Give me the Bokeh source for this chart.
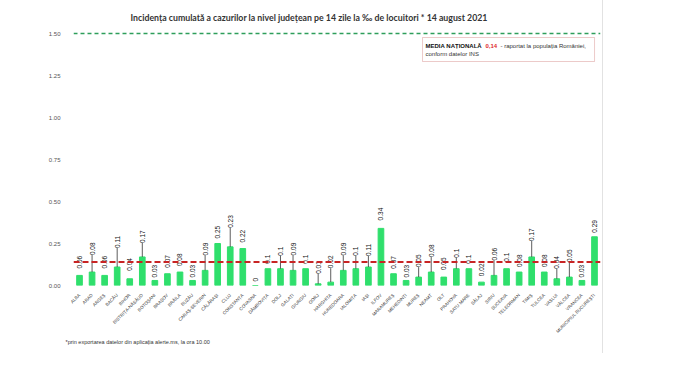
import math
from bokeh.plotting import figure
from bokeh.models import (Range1d, Span, BoxAnnotation, Label, ColumnDataSource,
                          NumeralTickFormatter, Title)
from bokeh.embed import file_html
from bokeh.resources import INLINE

# ---------------- data ----------------
counties = ["ALBA", "ARAD", "ARGEȘ", "BACĂU", "BIHOR", "BISTRIȚA-NĂSĂUD", "BOTOȘANI",
            "BRAȘOV", "BRĂILA", "BUZĂU", "CARAȘ-SEVERIN", "CĂLĂRAȘI", "CLUJ", "CONSTANȚA",
            "COVASNA", "DÂMBOVIȚA", "DOLJ", "GALAȚI", "GIURGIU", "GORJ", "HARGHITA",
            "HUNEDOARA", "IALOMIȚA", "IAȘI", "ILFOV", "MARAMUREȘ", "MEHEDINȚI", "MUREȘ",
            "NEAMȚ", "OLT", "PRAHOVA", "SATU MARE", "SĂLAJ", "SIBIU", "SUCEAVA",
            "TELEORMAN", "TIMIȘ", "TULCEA", "VASLUI", "VÂLCEA", "VRANCEA",
            "MUNICIPIUL BUCUREȘTI"]
values = [0.06, 0.08, 0.06, 0.11, 0.04, 0.17, 0.03, 0.07, 0.08, 0.03, 0.09, 0.25, 0.23,
          0.22, 0, 0.1, 0.1, 0.09, 0.1, 0.01, 0.02, 0.09, 0.1, 0.11, 0.34, 0.07, 0.03,
          0.05, 0.08, 0.05, 0.1, 0.1, 0.02, 0.06, 0.1, 0.08, 0.17, 0.08, 0.04, 0.05,
          0.03, 0.29]
national_mean = 0.14
threshold = 1.50
y_ticks = [0.0, 0.25, 0.5, 0.75, 1.0, 1.25, 1.5]

# ---------------- layout (pixels) ----------------
W, H = 603, 353
B_LEFT, B_RIGHT, B_TOP, B_BOTTOM = 73, 3, 5, 68
PX_PER_UNIT = 252 / 1.5             # 0.00 at y=285, 1.50 at y=33
Y_TOP = 1.5 + (33 - B_TOP) / PX_PER_UNIT   # headroom for the title inside the frame
# label lift above bar top (pixels), a layout choice per label
label_lift_px = [7, 17, 7, 19, 8, 14, 3, 6, 6, 3, 15, 5, 19, 6, 4, 5, 13, 15, 5, 10, 14,
                 15, 13, 11, 8, 5, 3, 10, 15, 7, 11, 5, 6, 15, 7, 5, 16, 5, 10, 15, 3, 4]

idx = list(range(len(counties)))
labels = [("%g" % v) for v in values]
label_y = [v + l / PX_PER_UNIT for v, l in zip(values, label_lift_px)]
src = ColumnDataSource(dict(x=idx, top=values, lab=labels, ly=label_y))

lead = [(i, v, ly) for i, v, ly, l in zip(idx, values, label_y, label_lift_px) if l >= 10]
lead_src = ColumnDataSource(dict(x=[a[0] for a in lead], y0=[a[1] for a in lead],
                                 y1=[a[2] for a in lead]))

p = figure(width=W, height=H, output_backend="svg", toolbar_location=None,
           x_range=Range1d(-0.478, 41.478), y_range=Range1d(0, Y_TOP),
           min_border_left=B_LEFT, min_border_right=B_RIGHT,
           min_border_top=B_TOP, min_border_bottom=B_BOTTOM,
           styles={"border-right": "1px solid #e2e2e2"})
p.outline_line_color = None
p.xgrid.grid_line_color = None
p.ygrid.grid_line_color = None
p.background_fill_color = "white"

# axes
p.yaxis.ticker = y_ticks
p.yaxis.formatter = NumeralTickFormatter(format="0.00")
p.yaxis.axis_line_color = None
p.yaxis.major_tick_line_color = None
p.yaxis.minor_tick_line_color = None
p.yaxis.major_label_text_font = "Liberation Sans"
p.yaxis.major_label_text_font_size = "6px"
p.yaxis.major_label_text_color = "#555555"
p.yaxis.major_label_standoff = 7

p.xaxis.ticker = idx
p.xaxis.major_label_overrides = {i: c for i, c in zip(idx, counties)}
p.xaxis.major_label_orientation = math.pi / 4
p.xaxis.axis_line_color = None
p.xaxis.major_tick_line_color = None
p.xaxis.minor_tick_line_color = None
p.xaxis.major_label_text_font = "Liberation Sans"
p.xaxis.major_label_text_font_size = "4.5px"
p.xaxis.major_label_text_color = "#333333"
p.xaxis.major_label_standoff = 3

# bars
p.vbar(x="x", top="top", width=0.45, source=src, color="#2fdf6c")

# leader lines
p.segment(x0="x", y0="y0", x1="x", y1="y1", source=lead_src, line_color="#333333",
          line_width=0.8)

# value labels
p.text(x="x", y="ly", text="lab", source=src, angle=math.pi / 2, text_align="left",
       text_baseline="middle", text_font_size="6.5px", text_color="#111111",
       text_font={"value": "Liberation Sans"})

# reference lines
p.add_layout(Span(location=threshold, dimension="width", line_color="#2e9e5b",
                  line_width=1.5, line_dash="4 3"))
p.add_layout(Span(location=national_mean, dimension="width", line_color="#c82424",
                  line_width=2, line_dash="6 3"))

def px_x(page_x):
    return (page_x - 79) / 12.56

def px_y(page_y):
    return (285 - page_y) / PX_PER_UNIT

# title (inside the frame's headroom)
p.add_layout(Label(x=px_x(130), y=px_y(17),
                   text="Incidența cumulată a cazurilor la nivel județean pe 14 zile la ‰ de locuitori *  14 august 2021",
                   text_font="Lato", text_font_style="bold", text_font_size="8.75px",
                   text_color="#333333", text_baseline="middle"))

# national mean box
p.add_layout(BoxAnnotation(left=px_x(422), right=px_x(594), top=px_y(37), bottom=px_y(61),
                           fill_alpha=0, line_color="#c0504d", line_width=1))
p.add_layout(Label(x=px_x(425), y=px_y(45), text="MEDIA NAȚIONALĂ", text_font="Liberation Sans",
                   text_font_style="bold", text_font_size="6px", text_color="#111111",
                   text_baseline="middle"))
p.add_layout(Label(x=px_x(485), y=px_y(45), text="0,14", text_font="Liberation Sans",
                   text_font_style="bold", text_font_size="6px", text_color="#e02b2b",
                   text_baseline="middle"))
p.add_layout(Label(x=px_x(500), y=px_y(45), text="- raportat la populația României,",
                   text_font="Liberation Sans", text_font_size="6px", text_color="#333333",
                   text_baseline="middle"))
p.add_layout(Label(x=px_x(425), y=px_y(53), text="conform datelor INS",
                   text_font="Liberation Sans", text_font_size="6px", text_color="#333333",
                   text_baseline="middle"))

# footnote
p.add_layout(Title(text="*prin exportarea datelor din aplicația alerte.ms, la ora 10.00",
                   align="left", offset=-8, text_font="Liberation Sans",
                   text_font_size="5.5px", text_font_style="normal", text_color="#333333",
                   standoff=-12), "below")

open("out.html", "w").write(file_html(p, INLINE))
